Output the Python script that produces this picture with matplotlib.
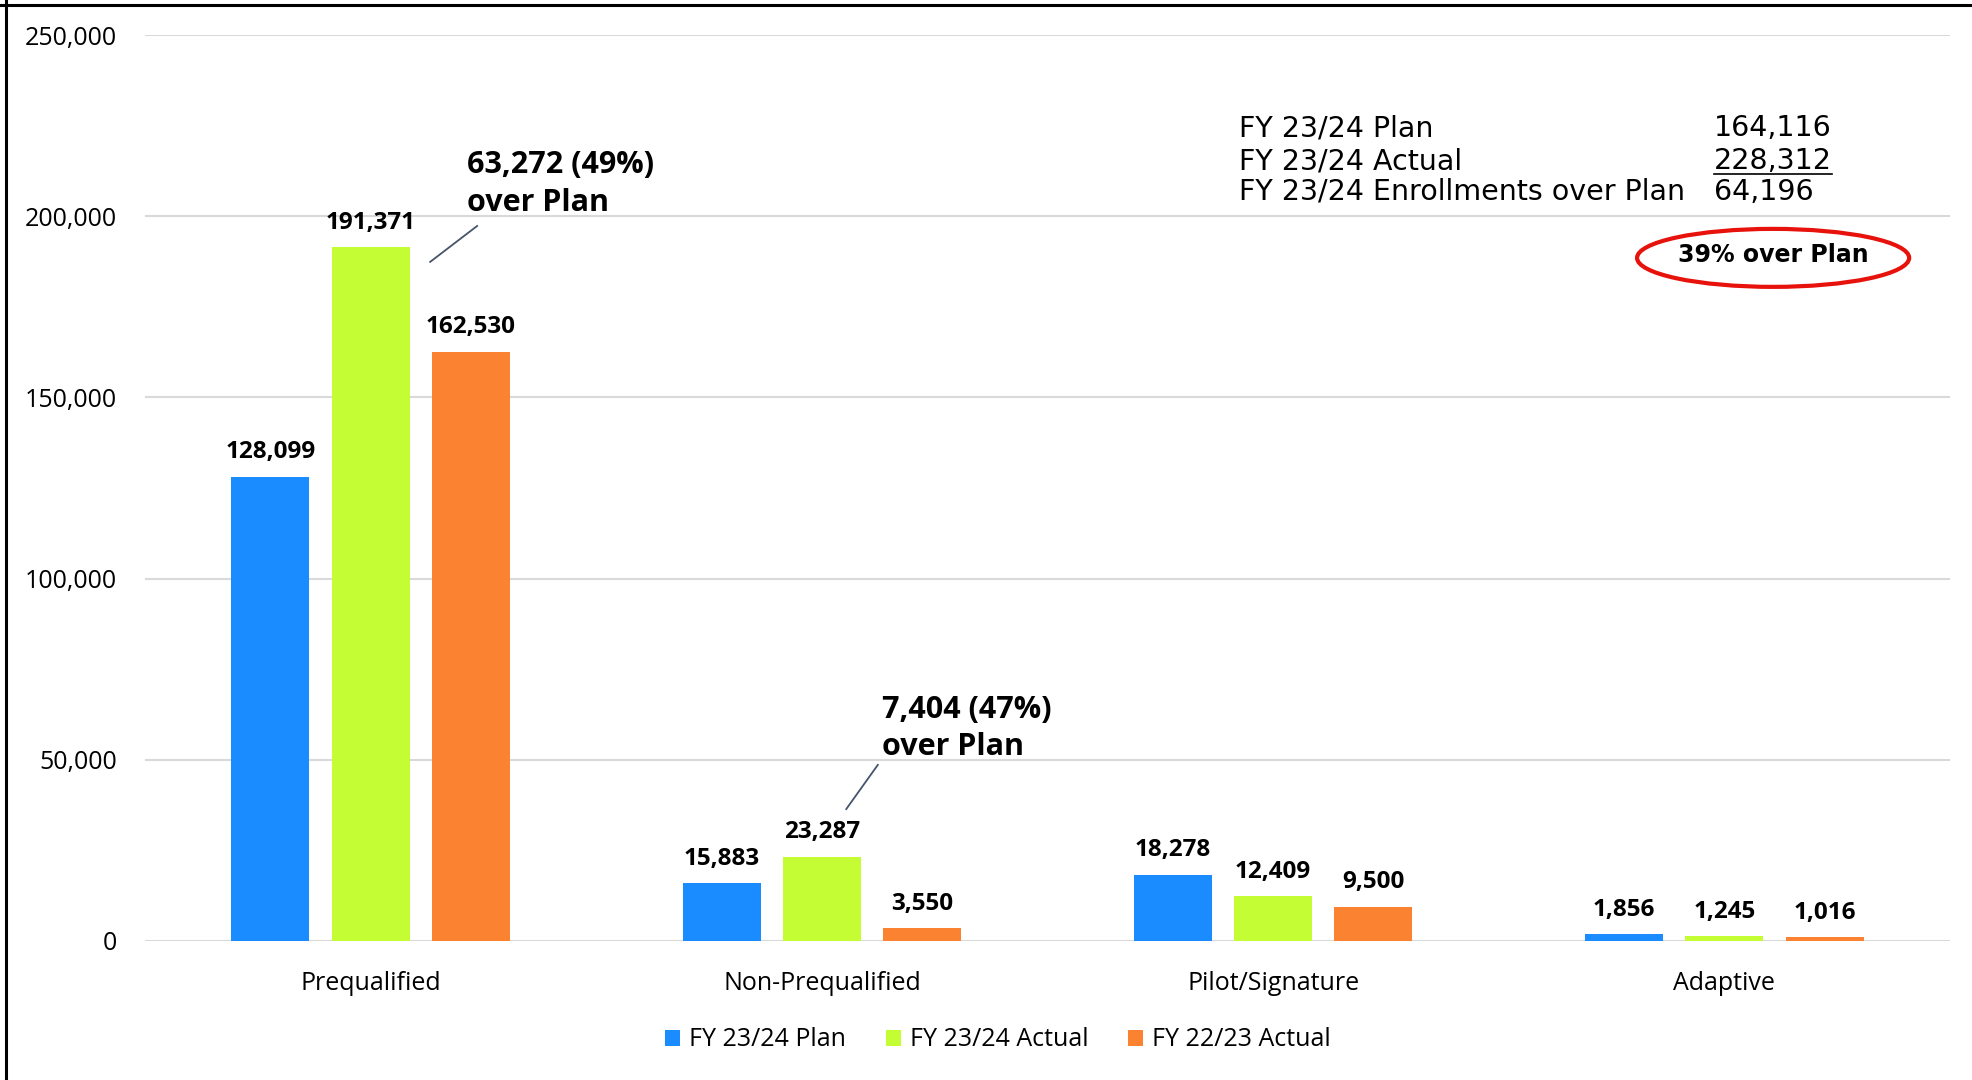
import matplotlib
matplotlib.use('Agg')
import matplotlib.pyplot as plt
import numpy as np
from matplotlib.lines import Line2D
from matplotlib.patches import Ellipse
from matplotlib.ticker import FuncFormatter

# data
categories = ['Prequalified', 'Non-Prequalified', 'Pilot/Signature', 'Adaptive']
series_names = ['FY 23/24 Plan', 'FY 23/24 Actual', 'FY 22/23 Actual']
plan_2324 = [128099, 15883, 18278, 1856]
actual_2324 = [191371, 23287, 12409, 1245]
actual_2223 = [162530, 3550, 9500, 1016]
y_ticks = [0, 50000, 100000, 150000, 200000, 250000]

summary_labels = ['FY 23/24 Plan', 'FY 23/24 Actual', 'FY 23/24 Enrollments over Plan']
summary_values = ['164,116', '228,312', '64,196']
callouts = ['63,272 (49%)\nover Plan', '7,404 (47%)\nover Plan']
badge_text = '39% over Plan'

colors = ['#1b8cff', '#c5fd35', '#fb8230']
FONT = 'Open Sans'
NARROW = ['Liberation Sans Narrow', 'DejaVu Sans']

plt.rcParams['font.family'] = [FONT, 'DejaVu Sans']

fig = plt.figure(figsize=(19.72, 10.80), dpi=100)
ax = fig.add_axes([145 / 1972, 1 - 941 / 1080, 1805 / 1972, 906 / 1080])

x = np.arange(len(categories))
width = 0.173
offset = 0.222
all_series = [plan_2324, actual_2324, actual_2223]
for i, (vals, name) in enumerate(zip(all_series, series_names)):
    bars = ax.bar(x + (i - 1) * offset, vals, width, color=colors[i], label=name, zorder=3)
    for b, v in zip(bars, vals):
        ax.annotate(f'{v:,}', (b.get_x() + b.get_width() / 2, v),
                    xytext=(0, 9), textcoords='offset points',
                    ha='center', va='bottom', fontsize=17.5, fontweight='bold')

ax.set_xlim(-0.5, 3.5)
ax.set_ylim(0, 250000)
ax.set_yticks(y_ticks)
ax.yaxis.set_major_formatter(FuncFormatter(lambda v, p: f'{int(v):,}'))
ax.set_xticks(x)
ax.set_xticklabels(categories)
ax.tick_params(axis='y', length=0, pad=20, labelsize=18)
ax.tick_params(axis='x', length=0, pad=21.5, labelsize=18)
ax.grid(axis='y', color='#d9d9d9', linewidth=1.5, zorder=0)
for s in ax.spines.values():
    s.set_visible(False)

# callouts with leader lines
ax.plot([0.132, 0.236], [187400, 197300], color='#44546a', lw=1.3, zorder=4)
ax.text(0.214, 208900, callouts[0], ha='left', va='center', fontsize=22,
        fontweight='bold', linespacing=1.33)
ax.plot([1.054, 1.124], [36400, 48600], color='#44546a', lw=1.3, zorder=4)
ax.text(1.133, 58600, callouts[1], ha='left', va='center', fontsize=22,
        fontweight='bold', linespacing=1.33)

# summary block
summary_y = [224300, 215200, 206700]
value_texts = []
for lab, val, yy in zip(summary_labels, summary_values, summary_y):
    ax.text(1.924, yy, lab, ha='left', va='center', fontsize=20.5, family=NARROW,
            fontweight='medium')
    value_texts.append(ax.text(2.977, yy, val, ha='left', va='center', fontsize=20.5,
                               family=NARROW, fontweight='medium'))

ax.text(3.108, 189200, badge_text, ha='center', va='center', fontsize=17, fontweight='bold',
        family=NARROW)
ax.add_patch(Ellipse((3.108, 188500), 0.603, 16000, fill=False, edgecolor='#e8120c',
                     lw=3, zorder=5))

# underline on the actual total
fig.canvas.draw()
bb = value_texts[1].get_window_extent().transformed(ax.transData.inverted())
ax.plot([bb.x0, bb.x1], [bb.y0 + 300, bb.y0 + 300], color='black', lw=1.2)

fig.legend(loc='center', bbox_to_anchor=(998 / 1972, 1 - 1040 / 1080), ncol=3,
           frameon=False, fontsize=18, handlelength=0.6, handleheight=0.6,
           handletextpad=0.36, columnspacing=1.6)

# frame edges on top and left
fig.add_artist(Line2D([0, 1], [1 - 5 / 1080] * 2, color='black', lw=2.2))
fig.add_artist(Line2D([6 / 1972] * 2, [0, 1], color='black', lw=2.2))

fig.savefig('out.png', dpi=100)
